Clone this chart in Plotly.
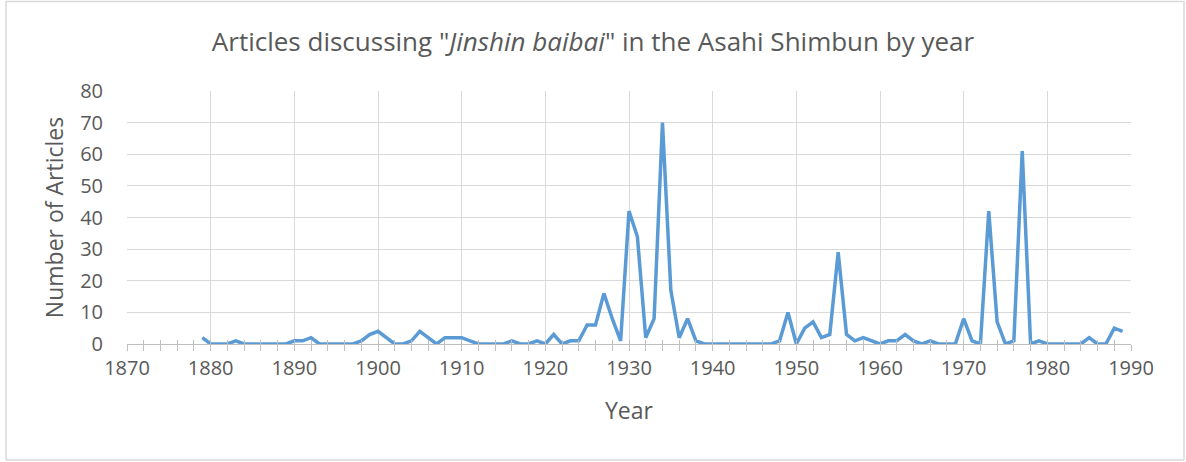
import plotly.graph_objects as go

years = list(range(1879, 1990))
articles = [
    2,                              # 1879
    0, 0, 0, 1, 0, 0, 0, 0, 0, 0,   # 1880-1889
    1, 1, 2, 0, 0, 0, 0, 0, 1, 3,   # 1890-1899
    4, 2, 0, 0, 1, 4, 2, 0, 2, 2,   # 1900-1909
    2, 1, 0, 0, 0, 0, 1, 0, 0, 1,   # 1910-1919
    0, 3, 0, 1, 1, 6, 6, 16, 8, 1,  # 1920-1929
    42, 34, 2, 8, 70, 17, 2, 8, 1, 0,  # 1930-1939
    0, 0, 0, 0, 0, 0, 0, 0, 1, 10,  # 1940-1949
    0, 5, 7, 2, 3, 29, 3, 1, 2, 1,  # 1950-1959
    0, 1, 1, 3, 1, 0, 1, 0, 0, 0,   # 1960-1969
    8, 1, 0, 42, 7, 0, 1, 61, 0, 1, # 1970-1979
    0, 0, 0, 0, 0, 2, 0, 0, 5, 4,   # 1980-1989
]

title_text = 'Articles discussing "<i>Jinshin baibai</i>" in the Asahi Shimbun by year'
x_title = "Year"
y_title = "Number of Articles"

FONT = "Open Sans"
GRAY = "#595959"
GRID = "#d9d9d9"
TICK = "#bfbfbf"

fig = go.Figure()
fig.add_trace(go.Scatter(
    x=years, y=articles, mode="lines",
    line=dict(color="#5b9bd5", width=3.5),
    showlegend=False, hoverinfo="x+y",
))

fig.update_layout(
    width=1186, height=462,
    margin=dict(l=127, r=55, t=91, b=118),
    paper_bgcolor="white", plot_bgcolor="white",
    font=dict(family=FONT, color=GRAY, size=20),
    title=dict(text=title_text, x=0.5, xanchor="center", y=0.91, yanchor="middle",
               font=dict(family=FONT, size=26, color=GRAY)),
    xaxis=dict(
        range=[1870, 1990], dtick=10, tick0=1870,
        showgrid=True, gridcolor=GRID, gridwidth=1,
        showline=False, zeroline=False,
        ticks="outside", ticklen=6, tickcolor=TICK, tickwidth=1,
        minor=dict(dtick=2, tick0=1870, ticks="outside", ticklen=6, tickcolor=TICK, showgrid=False),
        tickfont=dict(size=20, color=GRAY),
        title=dict(text=x_title, font=dict(size=23, color=GRAY), standoff=22),
    ),
    xaxis2=dict(
        range=[1870, 1990], dtick=10, tick0=1870, overlaying="x", side="bottom",
        anchor="y", showgrid=False, showline=False, zeroline=False,
        ticks="inside", ticklen=4, tickcolor=TICK, showticklabels=False,
        minor=dict(dtick=2, tick0=1870, ticks="inside", ticklen=4, tickcolor=TICK, showgrid=False),
    ),
    yaxis=dict(
        range=[0, 80], dtick=10,
        showgrid=True, gridcolor=GRID, gridwidth=1,
        zeroline=True, zerolinecolor=TICK, zerolinewidth=1,
        showline=False, ticks="", ticklabelstandoff=23,
        tickfont=dict(size=20, color=GRAY),
        title=dict(text=y_title, font=dict(size=23, color=GRAY), standoff=10),
    ),
    shapes=[dict(type="rect", xref="paper", yref="paper",
                 x0=(6 - 127) / 1004, x1=(1184 - 127) / 1004,
                 y0=(344 - 460) / 253, y1=(344 - 1.5) / 253,
                 line=dict(color="#d9d9d9", width=1.5), fillcolor="rgba(0,0,0,0)", layer="below")],
)

# invisible trace to activate xaxis2 overlay for cross-style ticks
fig.add_trace(go.Scatter(x=[1870], y=[0], xaxis="x2", mode="markers",
                         marker=dict(opacity=0), showlegend=False, hoverinfo="skip"))

fig.write_html("out.html", config={"displayModeBar": False},
               post_script="document.body.style.margin='0';")
